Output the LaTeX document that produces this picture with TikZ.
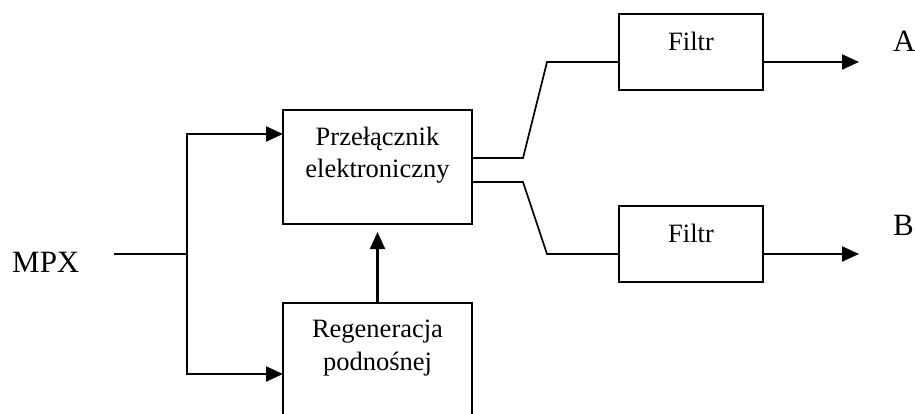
\documentclass[tikz,border=0pt]{standalone}
\usepackage{fontspec}
\setmainfont{Liberation Serif}
\usetikzlibrary{arrows.meta}
\begin{document}
\begin{tikzpicture}[x=1pt,y=-1pt,
  box/.style={draw, line width=1.8pt, inner sep=0pt, outer sep=0pt},
  conn/.style={line width=1.7pt},
  arr/.style={line width=2.2pt, -{Triangle[length=17pt,width=15pt]}},
  lbl/.style={font=\fontsize{26.5}{32}\selectfont, align=center, inner sep=0pt},
  big/.style={font=\fontsize{31}{36}\selectfont, inner sep=0pt},
]
\useasboundingbox (0,0) rectangle (915,414);
\clip (0,0) rectangle (915,414);

% boxes
\node[box, minimum width=189pt, minimum height=114pt] (sw) at (377.5,167) {};
\node[box, minimum width=189pt, minimum height=127pt] (regen) at (377.5,366.5) {};
\node[box, minimum width=144pt, minimum height=76pt] (f1) at (691,52) {};
\node[box, minimum width=144pt, minimum height=76pt] (f2) at (691,244) {};

% texts
\node[lbl] (swt) at (377.5,155.5) {Przełącznik\\elektroniczny};
\node[lbl, font=\fontsize{26.5}{33}\selectfont] (regt) at (377.5,348.5) {Regeneracja\\podnośnej};
\node[lbl, anchor=base] (f1t) at (691,51) {Filtr};
\node[lbl, anchor=base] (f2t) at (691,242) {Filtr};
\node[big, anchor=base west] (mpx) at (12,272) {MPX};
\node[big, anchor=base west] (la) at (893,52) {A};
\node[big, anchor=base west] (lb) at (893,235) {B};

% coordinates
\coordinate (mpxin) at (114,254);
\coordinate (split) at (187,254);
\coordinate (outA) at (859,62);
\coordinate (outB) at (859,254);

% input distribution
\draw[conn] (mpxin) -- (split);
\draw[arr] (split) |- ([yshift=-24pt]sw.north west);
\draw[arr] (split) |- ([yshift=-71pt]regen.north west);

% regeneration to switch
\draw[arr, shorten >=8pt] (regen.north) -- (sw.south);

% switch outputs to filters
\draw[conn] ([yshift=9pt]sw.east) -- (523,158) -- (547,62) -- ([yshift=-10pt]f1.west);
\draw[conn] ([yshift=-15pt]sw.east) -- (523,182) -- (547,254) -- ([yshift=-10pt]f2.west);

% outputs
\draw[arr] ([yshift=-10pt]f1.east) -- (outA);
\draw[arr] ([yshift=-10pt]f2.east) -- (outB);
\end{tikzpicture}
\end{document}
